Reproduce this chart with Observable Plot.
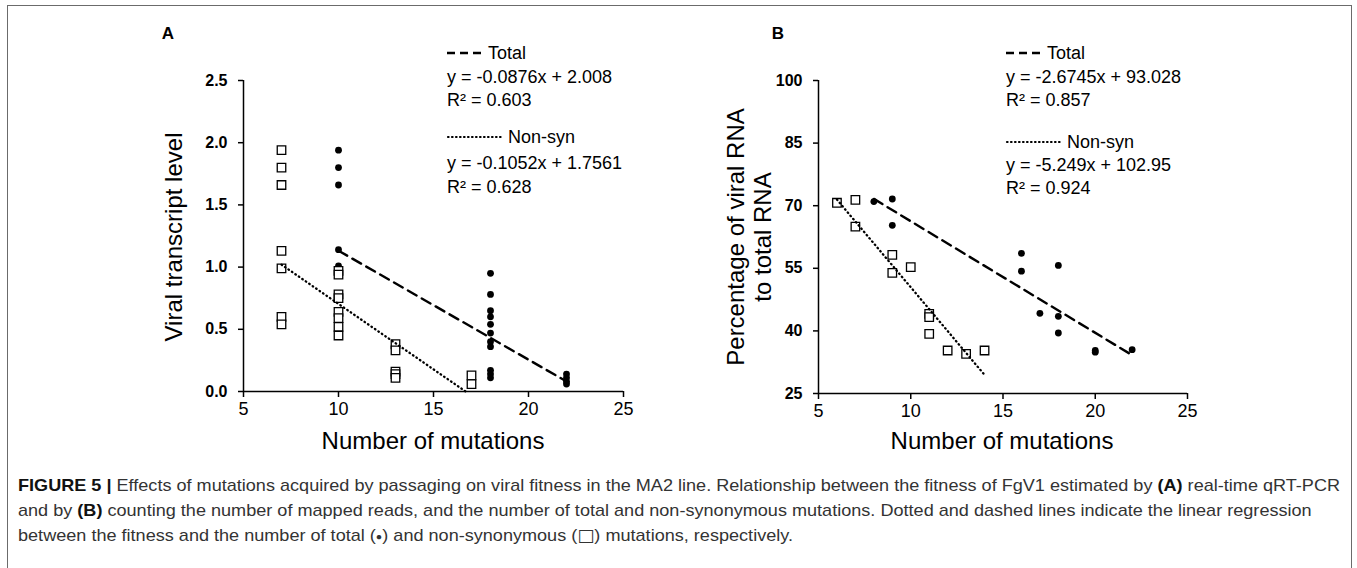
<!DOCTYPE html>
<html>
<head>
<meta charset="utf-8">
<script src="https://cdn.jsdelivr.net/npm/d3@7"></script>
<script src="https://cdn.jsdelivr.net/npm/@observablehq/plot@0.6"></script>
<style>
  html, body { margin: 0; padding: 0; background: #fff; }
  body { width: 1357px; height: 568px; overflow: hidden; position: relative; font-family: "Liberation Sans", Arial, sans-serif; color: #000; }
  .abs { position: absolute; white-space: nowrap; line-height: 1; }
  .c { transform: translate(-50%, -50%); }
  .rot { transform: translate(-50%, -50%) rotate(-90deg); }
  .lg { transform: translateY(-50%); font-size: 18px; display: flex; align-items: center; }
  .cap { position: absolute; left: 18px; white-space: nowrap; font-size: 17px; color: #333; line-height: 1; transform-origin: 0 50%; }
  .cap b { color: #111; }
  #frame { position: absolute; left: 7px; top: 5px; width: 1343px; height: 620px; border: 1.5px solid #6b6b6b; }
</style>
</head>
<body>
<div id="frame"></div>
<div id="root"></div>
<script>
// ---------- Data ----------
const xTicks = [5, 10, 15, 20, 25];

// Panel A: viral transcript level
const aYTicks = [0, 0.5, 1.0, 1.5, 2.0, 2.5];
const aTotalX = [10, 10, 10, 10, 10, 10, 10,
                 18, 18, 18, 18, 18, 18, 18, 18, 18, 18, 18,
                 22, 22, 22, 22];
const aTotalY = [1.94, 1.80, 1.66, 1.14, 1.01, 0.60, 0.54,
                 0.95, 0.78, 0.65, 0.60, 0.54, 0.47, 0.40, 0.36, 0.17, 0.14, 0.11,
                 0.14, 0.11, 0.08, 0.06];
const aNonsynX = [7, 7, 7, 7, 7, 7, 7,
                  10, 10, 10, 10, 10, 10, 10, 10,
                  13, 13, 13, 13, 13,
                  17, 17];
const aNonsynY = [1.94, 1.80, 1.66, 1.13, 0.99, 0.60, 0.54,
                  0.97, 0.94, 0.78, 0.75, 0.64, 0.59, 0.52, 0.45,
                  0.38, 0.33, 0.16, 0.14, 0.11,
                  0.13, 0.06];
const aTotalFit = {slope: -0.0876, intercept: 2.008, from: 10, to: 22};
const aNonsynFit = {slope: -0.1052, intercept: 1.7561, from: 7, to: 16.69};

// Panel B: percentage of viral RNA to total RNA
const bYTicks = [25, 40, 55, 70, 85, 100];
const bTotalX = [8, 9, 9, 16, 16, 18, 17, 18, 18, 20, 20, 22];
const bTotalY = [71.0, 71.6, 65.3, 58.6, 54.3, 55.7, 44.2, 43.5, 39.5, 35.3, 34.9, 35.5];
const bNonsynX = [6, 7, 7, 9, 9, 10, 11, 11, 11, 12, 13, 14];
const bNonsynY = [70.7, 71.4, 65.0, 58.2, 53.9, 55.3, 44.1, 43.3, 39.3, 35.3, 34.5, 35.3];
const bTotalFit = {slope: -2.6745, intercept: 93.028, from: 8, to: 22};
const bNonsynFit = {slope: -5.249, intercept: 102.95, from: 6, to: 14};

// Texts
const panelLetters = ["A", "B"];
const yTitles = [["Viral transcript level"], ["Percentage of viral RNA", "to total RNA"]];
const xTitle = "Number of mutations";
const legendA = ["Total", "y = -0.0876x + 2.008", "R\u00b2 = 0.603", "Non-syn", "y = -0.1052x + 1.7561", "R\u00b2 = 0.628"];
const legendB = ["Total", "y = -2.6745x + 93.028", "R\u00b2 = 0.857", "Non-syn", "y = -5.249x + 102.95", "R\u00b2 = 0.924"];
const captionLines = [
  '<b>FIGURE 5 |</b> Effects of mutations acquired by passaging on viral fitness in the MA2 line. Relationship between the fitness of FgV1 estimated by <b>(A)</b> real-time qRT-PCR',
  'and by <b>(B)</b> counting the number of mapped reads, and the number of total and non-synonymous mutations. Dotted and dashed lines indicate the linear regression',
  'between the fitness and the number of total (<span style="font-size:10px;vertical-align:1px">\u25cf</span>) and non-synonymous (<span style="font-family:\'DejaVu Sans\'">\u25a1</span>) mutations, respectively.'
];

// ---------- Helpers ----------
const root = document.getElementById("root");
const FONT = '"Liberation Sans", Arial, sans-serif';
const zip = (xs, ys) => xs.map((x, i) => ({x, y: ys[i]}));
const fitLine = f => [f.from, f.to].map(x => ({x, y: f.slope * x + f.intercept}));

function panel({yDomain, yTicks, yFormat, total, nonsyn, totalFit, nonsynFit, left, top, width, height, margins}) {
  const p = Plot.plot({
    width, height,
    marginLeft: margins[0], marginRight: margins[1], marginTop: margins[2], marginBottom: margins[3],
    x: {domain: [5, 25]},
    y: {domain: yDomain},
    style: {fontFamily: FONT, color: "#000", background: "transparent", overflow: "visible"},
    marks: [
      Plot.axisX({ticks: xTicks, tickSize: 6, tickPadding: 5, fontSize: 18, label: null, strokeWidth: 1.5}),
      Plot.axisY({ticks: yTicks, tickSize: 5, tickPadding: 11, fontSize: 16, fontWeight: "bold", tickFormat: yFormat, label: null, strokeWidth: 1.5}),
      Plot.ruleX([5], {stroke: "#000", strokeWidth: 1.5}),
      Plot.ruleY([yDomain[0]], {stroke: "#000", strokeWidth: 1.5}),
      Plot.dot(total, {x: "x", y: "y", r: 3.4, fill: "#000", stroke: null}),
      Plot.dot(nonsyn, {x: "x", y: "y", symbol: "square", r: 4.8, fill: "#fff", stroke: "#000", strokeWidth: 1.3}),
      Plot.line(fitLine(totalFit), {x: "x", y: "y", stroke: "#000", strokeWidth: 2.4, strokeDasharray: "10,6"}),
      Plot.line(fitLine(nonsynFit), {x: "x", y: "y", stroke: "#000", strokeWidth: 2.3, strokeDasharray: "0.6,3.6", strokeLinecap: "round"})
    ]
  });
  p.style.position = "absolute";
  p.style.left = left + "px";
  p.style.top = top + "px";
  root.appendChild(p);
}

function txt(html, x, y, cls, style = "") {
  const d = document.createElement("div");
  d.className = "abs " + cls;
  d.style.cssText = `left:${x}px;top:${y}px;${style}`;
  d.innerHTML = html;
  root.appendChild(d);
  return d;
}

function sample(kind, w) {
  const dash = kind === "dash" ? "8,5" : "0.6,3.4";
  const sw = kind === "dash" ? 2.6 : 2.2;
  const cap = kind === "dash" ? "butt" : "round";
  return `<svg width="${w}" height="6" style="margin-right:7px;overflow:visible"><line x1="${kind === "dash" ? 0 : 1}" y1="3" x2="${w}" y2="3" stroke="#000" stroke-width="${sw}" stroke-linecap="${cap}" stroke-dasharray="${dash}"/></svg>`;
}

function legend(lines, x, ys) {
  txt(sample("dash", 34) + lines[0], x, ys[0], "lg");
  txt(lines[1], x, ys[1], "lg");
  txt(lines[2], x, ys[2], "lg");
  txt(sample("dot", 54) + lines[3], x, ys[3], "lg");
  txt(lines[4], x, ys[4], "lg");
  txt(lines[5], x, ys[5], "lg");
}

// ---------- Panels ----------
panel({
  yDomain: [0, 2.5], yTicks: aYTicks, yFormat: d3.format(".1f"),
  total: zip(aTotalX, aTotalY), nonsyn: zip(aNonsynX, aNonsynY),
  totalFit: aTotalFit, nonsynFit: aNonsynFit,
  left: 130, top: 40, width: 520, height: 430, margins: [113, 27, 40, 79]
});
panel({
  yDomain: [25, 100], yTicks: bYTicks, yFormat: d3.format("d"),
  total: zip(bTotalX, bTotalY), nonsyn: zip(bNonsynX, bNonsynY),
  totalFit: bTotalFit, nonsynFit: bNonsynFit,
  left: 700, top: 40, width: 520, height: 430, margins: [118, 33, 40, 77]
});

// Panel letters
txt(panelLetters[0], 168, 33, "c", "font-weight:bold;font-size:17px");
txt(panelLetters[1], 778, 33, "c", "font-weight:bold;font-size:17px");

// Axis titles
txt(yTitles[0][0], 174, 237, "rot", "font-size:24px");
txt(yTitles[1][0], 736, 237, "rot", "font-size:24px");
txt(yTitles[1][1], 763, 237, "rot", "font-size:24px");
txt(xTitle, 433, 441, "c", "font-size:24px");
txt(xTitle, 1002, 441, "c", "font-size:24px");

// Legends
legend(legendA, 447, [53, 77, 100, 137, 163, 187]);
legend(legendB, 1006, [53, 77, 100, 142, 165, 188]);

// Caption
const capYs = [485, 510, 535];
const capDivs = captionLines.map((h, i) => {
  const d = document.createElement("div");
  d.className = "cap";
  d.style.top = (capYs[i] - 8) + "px";
  d.innerHTML = h;
  root.appendChild(d);
  return d;
});
const w1 = capDivs[0].getBoundingClientRect().width;
const s = 1322 / w1;
capDivs.forEach(d => d.style.transform = `scaleX(${s})`);
</script>
</body>
</html>
